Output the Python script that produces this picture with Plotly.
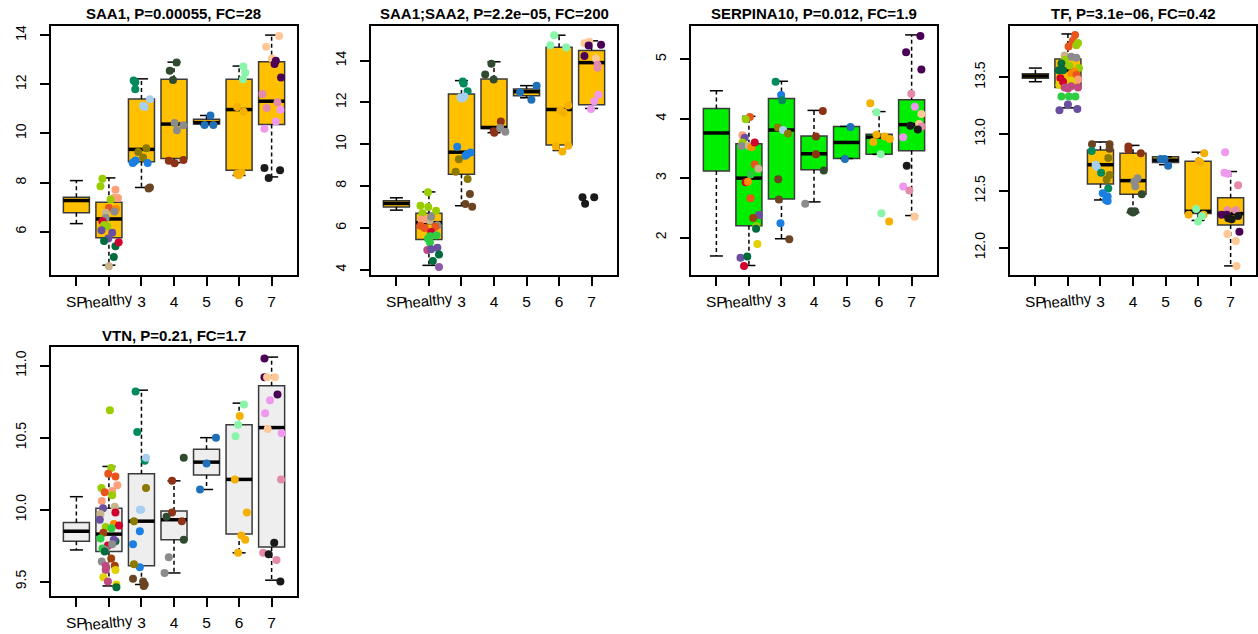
import plotly.graph_objects as go

GROUPS = ["SP", "healthy", "3", "4", "5", "6", "7"]
GROUP_POS = [1, 2, 3, 4, 5, 6, 7]

C = {
    "yg": "#9ACD00", "salmon": "#FFA07A", "orred": "#E8561E", "gray": "#8C8C8C",
    "tan": "#C9B48A", "dgreen": "#006B3C", "crimson": "#D0002F", "purple": "#6A4FA0",
    "bgreen": "#2ECC40", "gold": "#E2D000", "orange": "#FF8C00", "magenta": "#C04A80",
    "brown": "#A0400A", "mpurple": "#8E5AA8",
    "teal": "#008A5E", "lblue": "#A8CFF0", "olive": "#8C7A00", "blue": "#1A7FE0",
    "dbrown": "#6B4424", "dkgreen": "#2F4A2F", "rbrown": "#8C3216", "steel": "#1F70B8",
    "mint": "#88F5A8", "amber": "#F5B000", "peach": "#FFC896", "dpurple": "#4A0055",
    "pink": "#E48AAA", "violet": "#EE99EE", "black": "#1A1A1A",
}

# box statistics per group: (lower whisker, q1, median, q3, upper whisker)
SAA1_STATS = [(6.33, 6.77, 7.27, 7.40, 8.08), (4.64, 5.76, 6.52, 7.20, 8.19),
              (7.80, 8.85, 9.35, 11.40, 12.22), (8.81, 8.98, 10.38, 12.20, 12.90),
              (10.35, 10.38, 10.44, 10.58, 10.73), (8.29, 8.50, 10.97, 12.20, 12.74),
              (8.23, 10.36, 11.31, 12.92, 14.00)]
SAA12_STATS = [(6.85, 7.00, 7.17, 7.30, 7.44), (4.21, 5.45, 6.25, 6.70, 7.72),
               (7.06, 8.57, 9.62, 12.40, 13.04), (10.55, 10.75, 10.80, 13.12, 13.94),
               (12.22, 12.32, 12.51, 12.64, 12.80), (9.70, 9.96, 11.66, 14.64, 15.21),
               (11.71, 11.89, 13.90, 14.48, 14.94)]
SERP_STATS = [(1.69, 3.12, 3.76, 4.17, 4.47), (1.53, 2.20, 3.00, 3.58, 4.04),
              (1.98, 2.65, 3.81, 4.34, 4.63), (2.60, 3.14, 3.41, 3.71, 4.14),
              (3.33, 3.33, 3.60, 3.87, 3.87), (3.40, 3.40, 3.69, 3.74, 4.12),
              (2.37, 3.46, 3.90, 4.32, 5.41)]
TF_STATS = [(13.46, 13.49, 13.51, 13.53, 13.58), (13.23, 13.41, 13.56, 13.66, 13.88),
            (12.42, 12.56, 12.73, 12.86, 12.93), (12.31, 12.47, 12.59, 12.83, 12.90),
            (12.73, 12.75, 12.77, 12.80, 12.80), (12.24, 12.30, 12.32, 12.76, 12.84),
            (11.84, 12.20, 12.30, 12.44, 12.67)]
VTN_STATS = [(9.72, 9.78, 9.85, 9.91, 10.09), (9.47, 9.71, 9.83, 10.01, 10.30),
             (9.48, 9.61, 9.92, 10.25, 10.83), (9.56, 9.79, 9.93, 9.99, 10.20),
             (10.14, 10.24, 10.33, 10.42, 10.50), (9.70, 9.83, 10.21, 10.59, 10.74),
             (9.51, 9.74, 10.57, 10.86, 11.06)]

# points: (group position, jitter, value, colour key)
SAA1_POINTS = [
    (2, -0.20, 8.16, "yg"), (2, -0.26, 7.85, "yg"), (2, 0.20, 7.71, "salmon"), (2, 0.15, 7.37, "salmon"),
    (2, 0.28, 7.37, "salmon"), (2, 0.05, 7.31, "yg"), (2, 0.00, 6.97, "orred"), (2, 0.22, 6.92, "orange"),
    (2, -0.10, 6.77, "tan"), (2, 0.17, 6.82, "gray"), (2, -0.10, 6.56, "gray"), (2, -0.20, 6.43, "crimson"),
    (2, -0.15, 6.27, "yg"), (2, -0.05, 6.22, "yg"), (2, -0.23, 6.06, "purple"), (2, 0.10, 5.96, "purple"),
    (2, -0.02, 5.72, "purple"), (2, -0.15, 5.62, "dgreen"), (2, 0.20, 5.41, "dgreen"), (2, 0.30, 5.57, "crimson"),
    (2, 0.15, 4.97, "dgreen"), (2, 0.00, 4.60, "tan"),
    (3, -0.24, 12.15, "teal"), (3, -0.19, 12.08, "teal"), (3, -0.19, 11.80, "teal"),
    (3, 0.26, 11.39, "lblue"), (3, 0.05, 11.13, "lblue"), (3, 0.10, 11.07, "lblue"),
    (3, 0.15, 9.40, "olive"), (3, -0.10, 9.24, "olive"), (3, 0.05, 9.02, "olive"),
    (3, -0.23, 8.85, "blue"), (3, -0.27, 8.80, "blue"), (3, 0.19, 8.80, "blue"), (3, -0.18, 8.90, "blue"),
    (3, 0.26, 7.80, "dbrown"), (3, 0.22, 7.76, "dbrown"),
    (4, 0.08, 12.88, "dkgreen"), (4, -0.13, 12.55, "dkgreen"), (4, -0.03, 12.17, "dkgreen"),
    (4, 0.02, 10.42, "gray"), (4, 0.29, 10.33, "gray"), (4, 0.09, 10.13, "gray"),
    (4, -0.16, 8.89, "rbrown"), (4, 0.02, 8.79, "rbrown"), (4, 0.29, 8.92, "rbrown"),
    (5, 0.12, 10.73, "steel"), (5, -0.06, 10.34, "steel"), (5, 0.21, 10.34, "steel"),
    (6, 0.13, 12.72, "mint"), (6, 0.19, 12.47, "mint"), (6, 0.12, 12.20, "mint"),
    (6, -0.06, 11.07, "amber"), (6, 0.14, 10.88, "amber"),
    (6, -0.06, 8.36, "amber"), (6, 0.07, 8.42, "amber"), (6, -0.01, 8.30, "amber"),
    (7, 0.23, 13.96, "peach"), (7, -0.17, 13.53, "peach"), (7, 0.01, 13.05, "peach"),
    (7, 0.13, 12.96, "dpurple"), (7, 0.09, 12.82, "dpurple"), (7, 0.29, 12.27, "dpurple"),
    (7, -0.28, 11.60, "pink"), (7, -0.15, 11.03, "pink"), (7, 0.18, 11.27, "pink"),
    (7, 0.27, 10.96, "violet"), (7, -0.22, 10.19, "violet"), (7, 0.13, 10.48, "violet"),
    (7, -0.22, 8.59, "black"), (7, 0.26, 8.50, "black"), (7, -0.09, 8.19, "black"),
]
SAA12_POINTS = [
    (2, -0.03, 7.70, "yg"), (2, -0.26, 7.06, "yg"), (2, -0.02, 7.00, "yg"), (2, 0.22, 6.82, "yg"),
    (2, -0.20, 6.70, "yg"), (2, -0.23, 6.39, "salmon"), (2, -0.10, 6.42, "salmon"), (2, 0.03, 6.35, "tan"),
    (2, 0.07, 6.53, "gray"), (2, 0.26, 6.13, "gray"), (2, -0.26, 6.10, "orred"), (2, -0.13, 6.00, "orred"),
    (2, 0.20, 6.05, "orred"), (2, 0.07, 5.80, "crimson"), (2, 0.03, 5.60, "bgreen"), (2, 0.23, 5.65, "bgreen"),
    (2, -0.03, 5.48, "bgreen"), (2, 0.03, 5.30, "bgreen"), (2, -0.05, 4.94, "magenta"), (2, 0.07, 4.98, "purple"),
    (2, 0.26, 5.05, "purple"), (2, 0.31, 4.73, "dgreen"), (2, 0.12, 4.42, "dgreen"), (2, 0.31, 4.13, "mpurple"),
    (3, 0.04, 13.00, "teal"), (3, 0.07, 12.90, "teal"), (3, 0.19, 12.53, "teal"),
    (3, -0.03, 12.23, "lblue"), (3, 0.09, 12.28, "lblue"), (3, 0.02, 12.18, "lblue"),
    (3, -0.13, 9.88, "blue"), (3, 0.28, 9.60, "blue"), (3, 0.17, 9.52, "blue"), (3, 0.12, 9.45, "blue"),
    (3, -0.08, 9.28, "olive"), (3, -0.18, 8.69, "olive"), (3, 0.19, 8.34, "olive"),
    (3, 0.26, 7.62, "dbrown"), (3, 0.12, 7.14, "dbrown"), (3, 0.33, 7.01, "dbrown"),
    (4, -0.08, 13.84, "dkgreen"), (4, -0.27, 13.33, "dkgreen"), (4, -0.01, 13.09, "dkgreen"),
    (4, 0.21, 11.09, "rbrown"), (4, -0.01, 10.62, "rbrown"), (4, 0.01, 10.55, "rbrown"),
    (4, 0.19, 10.78, "gray"), (4, 0.35, 10.60, "gray"),
    (5, -0.20, 12.48, "steel"), (5, 0.31, 12.80, "steel"), (5, 0.15, 12.13, "steel"),
    (6, -0.15, 15.21, "mint"), (6, -0.27, 14.73, "mint"), (6, 0.22, 14.62, "mint"),
    (6, 0.04, 11.62, "amber"), (6, 0.28, 11.85, "amber"), (6, 0.14, 11.52, "amber"),
    (6, -0.10, 9.89, "amber"), (6, 0.28, 9.93, "amber"), (6, 0.10, 9.65, "amber"),
    (7, -0.22, 14.82, "peach"), (7, -0.07, 14.90, "peach"), (7, 0.13, 14.10, "peach"),
    (7, 0.29, 14.75, "dpurple"), (7, -0.22, 14.22, "dpurple"), (7, -0.09, 14.72, "dpurple"),
    (7, 0.18, 13.80, "pink"), (7, 0.18, 13.65, "pink"),
    (7, 0.21, 12.37, "violet"), (7, 0.08, 12.05, "violet"), (7, -0.02, 11.68, "violet"),
    (7, -0.28, 7.46, "black"), (7, -0.20, 7.15, "black"), (7, 0.08, 7.46, "black"),
]
SERP_POINTS = [
    (2, 0.03, 4.03, "orred"), (2, -0.10, 3.99, "yg"), (2, -0.20, 3.72, "salmon"), (2, -0.13, 3.68, "purple"),
    (2, -0.20, 3.60, "yg"), (2, -0.23, 3.54, "gray"), (2, 0.00, 3.54, "tan"), (2, 0.08, 3.52, "orange"),
    (2, 0.18, 3.60, "crimson"), (2, 0.18, 3.23, "orred"), (2, 0.29, 3.16, "tan"), (2, 0.05, 3.06, "bgreen"),
    (2, -0.10, 2.93, "crimson"), (2, -0.03, 2.94, "orange"), (2, 0.05, 2.66, "orred"), (2, 0.31, 2.38, "purple"),
    (2, 0.13, 2.33, "brown"), (2, 0.23, 2.19, "yg"), (2, 0.22, 2.15, "dgreen"), (2, 0.26, 1.89, "gold"),
    (2, -0.26, 1.66, "purple"), (2, -0.05, 1.68, "dgreen"), (2, -0.15, 1.52, "crimson"),
    (3, -0.18, 4.62, "teal"), (3, -0.01, 4.40, "blue"), (3, 0.02, 4.31, "teal"), (3, -0.11, 3.85, "olive"),
    (3, 0.05, 3.81, "lblue"), (3, 0.20, 3.75, "olive"), (3, -0.10, 2.98, "dbrown"), (3, -0.08, 2.64, "dbrown"),
    (3, -0.03, 2.24, "blue"), (3, 0.24, 1.97, "dbrown"),
    (4, 0.27, 4.13, "rbrown"), (4, 0.06, 3.70, "rbrown"), (4, 0.06, 3.40, "rbrown"), (4, 0.30, 3.13, "dkgreen"),
    (4, -0.27, 2.57, "gray"),
    (5, 0.12, 3.86, "steel"), (5, -0.05, 3.32, "steel"),
    (6, -0.27, 4.26, "amber"), (6, -0.08, 4.11, "mint"), (6, -0.08, 3.73, "amber"), (6, 0.17, 3.70, "amber"),
    (6, 0.33, 3.66, "amber"), (6, -0.18, 3.61, "amber"), (6, 0.05, 3.40, "mint"), (6, 0.07, 2.41, "mint"),
    (6, 0.31, 2.27, "amber"),
    (7, 0.27, 5.39, "dpurple"), (7, -0.17, 5.12, "dpurple"), (7, 0.30, 4.83, "dpurple"), (7, -0.01, 4.42, "pink"),
    (7, 0.10, 4.20, "violet"), (7, 0.30, 4.08, "peach"), (7, 0.23, 3.91, "peach"), (7, 0.31, 3.87, "pink"),
    (7, -0.04, 3.88, "black"), (7, 0.19, 3.82, "black"), (7, -0.26, 3.69, "violet"), (7, -0.15, 3.21, "black"),
    (7, -0.26, 2.86, "violet"), (7, -0.07, 2.79, "pink"), (7, 0.09, 2.35, "peach"),
]
TF_POINTS = [
    (2, 0.22, 13.87, "orred"), (2, 0.15, 13.82, "orred"), (2, 0.31, 13.80, "yg"), (2, 0.26, 13.78, "yg"),
    (2, 0.02, 13.77, "orred"), (2, -0.10, 13.69, "tan"), (2, 0.10, 13.68, "gray"), (2, 0.26, 13.67, "gray"),
    (2, -0.10, 13.65, "yg"), (2, -0.20, 13.62, "dgreen"), (2, 0.05, 13.60, "yg"), (2, -0.15, 13.56, "dgreen"),
    (2, -0.28, 13.56, "dgreen"), (2, 0.34, 13.58, "yg"), (2, 0.20, 13.55, "orange"), (2, 0.10, 13.53, "orange"),
    (2, 0.26, 13.52, "orred"), (2, -0.23, 13.49, "crimson"), (2, 0.31, 13.48, "salmon"), (2, 0.10, 13.47, "gold"),
    (2, -0.26, 13.43, "gold"), (2, -0.15, 13.46, "crimson"), (2, -0.10, 13.41, "magenta"), (2, 0.00, 13.40, "magenta"),
    (2, 0.31, 13.41, "magenta"), (2, 0.10, 13.42, "magenta"), (2, -0.20, 13.33, "bgreen"), (2, 0.03, 13.33, "bgreen"),
    (2, 0.23, 13.33, "bgreen"), (2, 0.00, 13.26, "purple"), (2, -0.26, 13.21, "purple"), (2, 0.29, 13.22, "purple"),
    (3, -0.26, 12.91, "dbrown"), (3, 0.28, 12.91, "dbrown"), (3, 0.28, 12.87, "dbrown"), (3, -0.27, 12.85, "teal"),
    (3, 0.24, 12.79, "olive"), (3, -0.15, 12.73, "lblue"), (3, -0.11, 12.71, "lblue"), (3, 0.02, 12.66, "teal"),
    (3, 0.28, 12.64, "olive"), (3, 0.19, 12.60, "olive"), (3, 0.24, 12.52, "teal"), (3, 0.07, 12.48, "blue"),
    (3, 0.22, 12.45, "blue"), (3, 0.17, 12.42, "blue"), (3, 0.22, 12.41, "blue"),
    (4, -0.14, 12.89, "rbrown"), (4, -0.14, 12.86, "rbrown"), (4, 0.24, 12.83, "rbrown"), (4, 0.14, 12.61, "gray"),
    (4, 0.04, 12.58, "gray"), (4, 0.07, 12.54, "gray"), (4, 0.27, 12.47, "dkgreen"), (4, -0.06, 12.32, "dkgreen"),
    (4, 0.06, 12.32, "dkgreen"), (4, 0.00, 12.31, "dkgreen"),
    (5, -0.15, 12.78, "steel"), (5, -0.03, 12.78, "steel"), (5, 0.08, 12.72, "steel"),
    (6, 0.19, 12.83, "amber"), (6, 0.02, 12.76, "amber"), (6, 0.07, 12.75, "amber"), (6, -0.29, 12.29, "amber"),
    (6, 0.17, 12.29, "amber"), (6, -0.06, 12.34, "mint"), (6, 0.12, 12.28, "mint"), (6, 0.00, 12.23, "mint"),
    (7, -0.17, 12.84, "violet"), (7, -0.19, 12.66, "violet"), (7, -0.09, 12.65, "violet"), (7, 0.23, 12.55, "pink"),
    (7, -0.10, 12.33, "pink"), (7, 0.16, 12.33, "pink"), (7, -0.28, 12.29, "dpurple"), (7, -0.12, 12.29, "dpurple"),
    (7, 0.27, 12.14, "dpurple"), (7, -0.07, 12.26, "black"), (7, 0.03, 12.25, "black"), (7, 0.23, 12.28, "black"),
    (7, -0.10, 12.12, "peach"), (7, 0.16, 12.06, "peach"), (7, 0.18, 11.84, "peach"),
]
VTN_POINTS = [
    (2, 0.03, 10.69, "yg"), (2, 0.07, 10.29, "yg"), (2, -0.02, 10.25, "orred"), (2, 0.20, 10.23, "orred"),
    (2, 0.26, 10.17, "salmon"), (2, -0.23, 10.15, "yg"), (2, -0.13, 10.12, "orred"), (2, 0.10, 10.13, "salmon"),
    (2, 0.10, 10.10, "yg"), (2, -0.22, 10.06, "salmon"), (2, 0.18, 10.02, "tan"), (2, -0.18, 10.01, "purple"),
    (2, -0.26, 9.97, "tan"), (2, 0.20, 9.98, "crimson"), (2, -0.28, 9.93, "purple"), (2, 0.15, 9.90, "orange"),
    (2, 0.31, 9.89, "crimson"), (2, -0.10, 9.88, "yg"), (2, -0.17, 9.84, "brown"), (2, 0.08, 9.87, "bgreen"),
    (2, -0.26, 9.80, "bgreen"), (2, 0.20, 9.78, "dgreen"), (2, 0.15, 9.79, "purple"), (2, -0.03, 9.75, "crimson"),
    (2, -0.20, 9.73, "bgreen"), (2, -0.10, 9.72, "gray"), (2, 0.10, 9.76, "gray"), (2, -0.13, 9.71, "dgreen"),
    (2, 0.07, 9.66, "brown"), (2, -0.22, 9.64, "gray"), (2, -0.10, 9.61, "magenta"), (2, -0.10, 9.58, "magenta"),
    (2, 0.18, 9.61, "brown"), (2, 0.20, 9.58, "gold"), (2, -0.17, 9.53, "gold"), (2, -0.03, 9.50, "magenta"),
    (2, 0.23, 9.48, "gold"), (2, 0.23, 9.46, "dgreen"),
    (3, -0.18, 10.82, "teal"), (3, -0.13, 10.54, "teal"), (3, 0.10, 10.34, "teal"), (3, 0.14, 10.36, "lblue"),
    (3, 0.14, 10.15, "olive"), (3, -0.05, 10.00, "lblue"), (3, -0.01, 10.00, "lblue"), (3, -0.23, 9.92, "olive"),
    (3, -0.05, 9.85, "blue"), (3, -0.26, 9.76, "blue"), (3, -0.05, 9.60, "blue"), (3, -0.23, 9.62, "olive"),
    (3, -0.26, 9.52, "dbrown"), (3, 0.05, 9.50, "dbrown"), (3, 0.10, 9.48, "dbrown"), (3, 0.07, 9.47, "dbrown"),
    (4, 0.30, 10.36, "dkgreen"), (4, -0.06, 10.20, "rbrown"), (4, -0.06, 9.98, "rbrown"), (4, 0.24, 9.92, "rbrown"),
    (4, -0.23, 9.95, "dkgreen"), (4, 0.30, 9.79, "dkgreen"), (4, -0.16, 9.67, "gray"), (4, -0.29, 9.56, "gray"),
    (5, 0.29, 10.50, "steel"), (5, 0.00, 10.32, "steel"), (5, -0.20, 10.14, "steel"),
    (6, 0.15, 10.73, "mint"), (6, 0.02, 10.65, "amber"), (6, -0.03, 10.59, "mint"), (6, -0.11, 10.51, "mint"),
    (6, -0.13, 10.21, "amber"), (6, 0.24, 9.98, "amber"), (6, 0.07, 9.82, "amber"), (6, 0.19, 9.79, "amber"),
    (6, -0.03, 9.70, "amber"),
    (7, -0.22, 11.05, "dpurple"), (7, -0.22, 10.92, "dpurple"), (7, -0.14, 10.92, "peach"), (7, 0.10, 10.92, "peach"),
    (7, 0.18, 10.80, "dpurple"), (7, -0.05, 10.76, "violet"), (7, -0.20, 10.67, "violet"), (7, -0.12, 10.56, "peach"),
    (7, 0.31, 10.53, "violet"), (7, 0.29, 10.21, "pink"), (7, 0.08, 9.77, "black"), (7, -0.26, 9.70, "pink"),
    (7, -0.09, 9.69, "black"), (7, 0.15, 9.65, "pink"), (7, 0.27, 9.50, "black"),
]

# panel: title, stats, points, box fill, y range, y ticks, tick format, pixel box (left, top)
PANELS = [
    ("SAA1, P=0.00055, FC=28", SAA1_STATS, SAA1_POINTS, "#FFC000", [4.24, 14.37], [6, 8, 10, 12, 14], "d", (51, 26)),
    ("SAA1;SAA2, P=2.2e\u221205, FC=200", SAA12_STATS, SAA12_POINTS, "#FFC000", [3.75, 15.65], [4, 6, 8, 10, 12, 14], "d", (371, 26)),
    ("SERPINA10, P=0.012, FC=1.9", SERP_STATS, SERP_POINTS, "#00EE00", [1.37, 5.56], [2, 3, 4, 5], "d", (691, 26)),
    ("TF, P=3.1e\u221206, FC=0.42", TF_STATS, TF_POINTS, "#FFC000", [11.76, 13.95], [12.0, 12.5, 13.0, 13.5], ".1f", (1010, 26)),
    ("VTN, P=0.21, FC=1.7", VTN_STATS, VTN_POINTS, "#EEEEEE", [9.40, 11.13], [9.5, 10.0, 10.5, 11.0], ".1f", (51, 347)),
]

W, H = 1258, 634
PW, PH = 246, 249
FONT = "Liberation Sans, Arial, Helvetica, sans-serif"
BOXW = 0.8
STAPLE = 0.2

fig = go.Figure()
annotations = []

for i, (title, stats, points, fill, yr, yt, tf, (left, top)) in enumerate(PANELS):
    n = "" if i == 0 else str(i + 1)
    xa, ya = "x" + n, "y" + n
    lo = [s[0] for s in stats]
    q1 = [s[1] for s in stats]
    med = [s[2] for s in stats]
    q3 = [s[3] for s in stats]
    hi = [s[4] for s in stats]

    fig.add_trace(go.Box(
        x=GROUP_POS, q1=q1, median=med, q3=q3, lowerfence=q1, upperfence=q3,
        width=BOXW, whiskerwidth=0, fillcolor=fill, line=dict(color="#3a3a3a", width=1.5),
        boxpoints=False, xaxis=xa, yaxis=ya, showlegend=False, hoverinfo="skip"))

    wx, wy, sx, sy, mx, my = [], [], [], [], [], []
    for p, a, b, c, d, e in zip(GROUP_POS, lo, q1, med, q3, hi):
        wx += [p, p, None, p, p, None]
        wy += [d, e, None, b, a, None]
        sx += [p - STAPLE, p + STAPLE, None, p - STAPLE, p + STAPLE, None]
        sy += [e, e, None, a, a, None]
        mx += [p - BOXW / 2, p + BOXW / 2, None]
        my += [c, c, None]
    fig.add_trace(go.Scatter(x=wx, y=wy, mode="lines", line=dict(color="black", width=1.5, dash="4px,3px"),
                             xaxis=xa, yaxis=ya, showlegend=False, hoverinfo="skip"))
    fig.add_trace(go.Scatter(x=sx, y=sy, mode="lines", line=dict(color="black", width=1.5),
                             xaxis=xa, yaxis=ya, showlegend=False, hoverinfo="skip"))
    fig.add_trace(go.Scatter(x=mx, y=my, mode="lines", line=dict(color="black", width=3.5),
                             xaxis=xa, yaxis=ya, showlegend=False, hoverinfo="skip"))

    fig.add_trace(go.Scatter(
        x=[g + j for g, j, v, c in points], y=[v for g, j, v, c in points], mode="markers",
        marker=dict(size=8, color=[C[c] for g, j, v, c in points], line=dict(width=0)),
        xaxis=xa, yaxis=ya, showlegend=False, hoverinfo="skip"))

    xd = [left / W, (left + PW) / W]
    yd = [1 - (top + PH) / H, 1 - top / H]
    axis_common = dict(showline=True, linecolor="black", linewidth=2, mirror=True, showgrid=False,
                       zeroline=False, ticks="outside", ticklen=9, tickwidth=1.5, tickcolor="black")
    fig.layout["xaxis" + n] = dict(
        domain=xd, anchor=ya, range=[0.22, 7.78], tickvals=GROUP_POS,
        ticktext=[g if g != "healthy" else "" for g in GROUPS], ticklabelstandoff=2,
        tickfont=dict(family=FONT, size=15.5, color="black"), **axis_common)
    fig.layout["yaxis" + n] = dict(
        domain=yd, anchor=xa, range=yr, tickvals=yt, tickformat=tf, tickangle=-90,
        ticklabelstandoff=8,
        tickfont=dict(family=FONT, size=14, color="black"), **axis_common)

    annotations.append(dict(
        text="<b>" + title + "</b>", xref="paper", yref="paper",
        x=(left + PW / 2) / W, y=1 - (top - 12) / H, xanchor="center", yanchor="middle",
        showarrow=False, font=dict(family=FONT, size=15, color="black")))
    annotations.append(dict(
        text="healthy", xref=xa, yref="paper", x=GROUP_POS[1], y=1 - (top + PH + 26) / H,
        xanchor="center", yanchor="middle", textangle=-6, showarrow=False,
        font=dict(family=FONT, size=15, color="black")))

fig.update_layout(width=W, height=H, margin=dict(l=0, r=0, t=0, b=0),
                  plot_bgcolor="white", paper_bgcolor="white", annotations=annotations)

fig.write_html("out.html", config={"displayModeBar": False},
               post_script="document.body.style.margin='0px';")
